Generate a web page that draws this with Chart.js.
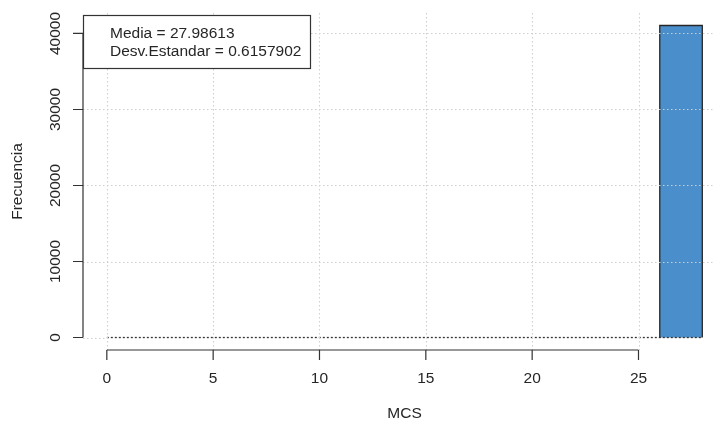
<!DOCTYPE html>
<html>
<head>
<meta charset="utf-8">
<script src="https://cdn.jsdelivr.net/npm/chart.js@4"></script>
<style>
  html, body { margin: 0; padding: 0; background: #fff; overflow: hidden; }
  #wrap { width: 714px; height: 421px; }
</style>
</head>
<body>
<div id="wrap"><canvas id="histChart" width="714" height="421"></canvas></div>
<script>
(function () {

  // histogram bins (breaks) and counts per bin
  const breaks = [0, 2, 4, 6, 8, 10, 12, 14, 16, 18, 20, 22, 24, 26, 28];
  const counts = [0, 0, 0, 0, 0, 0, 0, 0, 0, 0, 0, 0, 0, 41050];

  const xTicks = [0, 5, 10, 15, 20, 25];
  const yTicks = [0, 10000, 20000, 30000, 40000];

  const xTitle = "MCS";
  const yTitle = "Frecuencia";
  const legendLines = ["Media = 27.98613", "Desv.Estandar = 0.6157902"];

  const FONT = '15.5px "Liberation Sans", Arial, sans-serif';
  const INK = "#262626";

  // filled area of the bars, one step per bin
  const stepPoints = breaks.slice(0, -1).map((b, i) => ({ x: b, y: counts[i] }));
  stepPoints.push({ x: breaks[breaks.length - 1], y: 0 });

  // outline (left, top, right edges) of every non-empty bin
  const outlinePoints = [];
  counts.forEach((c, i) => {
    if (c > 0) {
      outlinePoints.push(
        { x: breaks[i], y: 0 },
        { x: breaks[i], y: c },
        { x: breaks[i + 1], y: c },
        { x: breaks[i + 1], y: 0 }
      );
    }
  });

  const baseLine = [
    { x: breaks[0], y: 0 },
    { x: breaks[breaks.length - 1], y: 0 }
  ];

  /* R-style axes, grid and legend drawn on top of the bars */
  const baseGraphics = {
    id: "baseGraphics",
    afterDatasetsDraw(chart) {
      const ctx = chart.ctx;
      const xs = chart.scales.x;
      const ys = chart.scales.y;
      const area = chart.chartArea;

      ctx.save();

      // dotted grid (drawn after the bars, like grid() in R)
      ctx.strokeStyle = "#cfcfcf";
      ctx.lineWidth = 1.1;
      ctx.setLineDash([1.5, 2.5]);
      xTicks.forEach(v => {
        const px = Math.round(xs.getPixelForValue(v)) + 0.5;
        ctx.beginPath();
        ctx.moveTo(px, area.top);
        ctx.lineTo(px, area.bottom);
        ctx.stroke();
      });
      yTicks.forEach(v => {
        const py = Math.round(ys.getPixelForValue(v)) + 0.5;
        ctx.beginPath();
        ctx.moveTo(area.left, py);
        ctx.lineTo(v === 0 ? xs.getPixelForValue(breaks[0]) : area.right, py);
        ctx.stroke();
      });
      ctx.setLineDash([]);

      // y axis
      ctx.strokeStyle = "#333";
      ctx.lineWidth = 1.2;
      const axX = area.left;
      ctx.beginPath();
      ctx.moveTo(axX, ys.getPixelForValue(yTicks[0]));
      ctx.lineTo(axX, ys.getPixelForValue(yTicks[yTicks.length - 1]));
      yTicks.forEach(v => {
        const py = ys.getPixelForValue(v);
        ctx.moveTo(axX, py);
        ctx.lineTo(axX - 10, py);
      });
      ctx.stroke();

      // x axis
      const axY = area.bottom;
      ctx.beginPath();
      ctx.moveTo(xs.getPixelForValue(xTicks[0]), axY);
      ctx.lineTo(xs.getPixelForValue(xTicks[xTicks.length - 1]), axY);
      xTicks.forEach(v => {
        const px = xs.getPixelForValue(v);
        ctx.moveTo(px, axY);
        ctx.lineTo(px, axY + 10);
      });
      ctx.stroke();

      // tick labels
      ctx.fillStyle = INK;
      ctx.font = FONT;
      ctx.textAlign = "center";
      ctx.textBaseline = "middle";
      xTicks.forEach(v => {
        ctx.fillText(String(v), xs.getPixelForValue(v), 379);
      });
      yTicks.forEach(v => {
        ctx.save();
        ctx.translate(56, ys.getPixelForValue(v));
        ctx.rotate(-Math.PI / 2);
        ctx.fillText(String(v), 0, 0);
        ctx.restore();
      });

      // axis titles
      ctx.fillText(xTitle, (area.left + 726) / 2, 414);
      ctx.save();
      ctx.translate(18, (area.top + area.bottom) / 2);
      ctx.rotate(-Math.PI / 2);
      ctx.fillText(yTitle, 0, 0);
      ctx.restore();

      // legend box
      ctx.fillStyle = "#fff";
      ctx.fillRect(area.left, 15, 227, 53);
      ctx.strokeStyle = "#333";
      ctx.lineWidth = 1.2;
      ctx.strokeRect(area.left + 0.5, 15.5, 227, 53);
      ctx.fillStyle = INK;
      ctx.textAlign = "left";
      legendLines.forEach((t, i) => {
        ctx.fillText(t, area.left + 27, 34 + i * 18);
      });

      ctx.restore();
    }
  };

  const ctx = document.getElementById("histChart").getContext("2d");

  // dataset 0 is painted last, so the outlines come first here
  new Chart(ctx, {
    type: "line",
    data: {
      datasets: [
        {
          label: "bar outline",
          data: outlinePoints,
          borderColor: INK,
          borderWidth: 1.3,
          pointRadius: 0,
          fill: false
        },
        {
          label: "zero line",
          data: baseLine,
          borderColor: "#333",
          borderWidth: 1.3,
          borderDash: [2, 2],
          pointRadius: 0,
          fill: false
        },
        {
          label: "Frecuencia",
          data: stepPoints,
          stepped: "before",
          borderWidth: 0,
          borderColor: "rgba(0,0,0,0)",
          backgroundColor: "#4a8fcc",
          fill: "origin",
          pointRadius: 0
        }
      ]
    },
    options: {
      responsive: false,
      animation: false,
      devicePixelRatio: 1,
      layout: {
        padding: { left: 83, top: 13, right: 0, bottom: 71 }
      },
      scales: {
        x: { type: "linear", display: false, min: -1.12, max: 28.55 },
        y: { type: "linear", display: false, min: -1642, max: 42692 }
      },
      plugins: {
        legend: { display: false },
        tooltip: { enabled: false }
      }
    },
    plugins: [baseGraphics]
  });

})();
</script>
</body>
</html>
